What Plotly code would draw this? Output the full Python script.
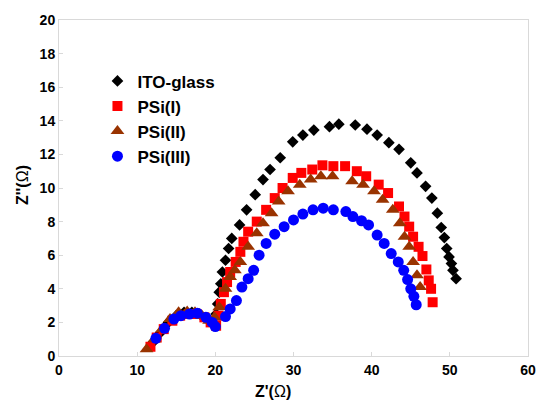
import plotly.graph_objects as go

ito_x = [12.1, 13.0, 14.0, 15.0, 16.0, 17.0, 18.0, 19.0, 19.9, 20.1, 20.3, 20.5, 20.7, 20.9, 21.3, 21.7, 22.1,
         23.1, 24.0, 25.1, 26.1, 27.0, 28.3, 29.9, 31.2, 32.6, 34.6, 35.8, 37.9, 39.4, 40.7, 42.2, 43.5,
         45.0, 45.8, 46.9, 47.7, 48.4, 48.9, 49.3, 49.6, 49.9, 50.2, 50.4, 50.8]
ito_y = [0.85, 1.4, 2.0, 2.4, 2.6, 2.6, 2.5, 2.2, 1.9, 2.5, 3.1, 3.8, 4.3, 5.0, 5.7, 6.4, 7.0,
         7.8, 8.7, 9.6, 10.5, 11.1, 11.8, 12.75, 13.15, 13.45, 13.65, 13.8, 13.75, 13.5, 13.15, 12.7, 12.3,
         11.5, 10.9, 10.1, 9.4, 8.5, 7.65, 7.05, 6.4, 5.9, 5.5, 5.1, 4.6]

psi1_x = [11.7, 12.5, 13.4, 14.5, 15.5, 16.6, 17.6, 18.6, 19.4, 20.1, 20.4, 20.7, 21.1, 21.5, 21.9, 22.6,
          23.2, 23.6, 24.2, 25.3, 26.5, 27.6, 28.6, 29.9, 31.0, 32.4, 33.7, 35.1, 36.6, 38.1, 39.3, 40.9,
          42.1, 43.5, 44.2, 44.8, 45.3, 46.0, 46.5, 47.0, 47.3, 47.6, 47.8]
psi1_y = [0.55, 1.1, 1.6, 2.1, 2.4, 2.5, 2.5, 2.3, 2.0, 1.8, 2.4, 3.1, 3.8, 4.4, 5.0, 5.6,
          6.2, 6.8, 7.4, 8.0, 8.7, 9.4, 10.0, 10.6, 10.9, 11.1, 11.35, 11.3, 11.3, 11.0, 10.7, 10.2,
          9.7, 8.9, 8.3, 7.7, 7.1, 6.5, 5.95, 5.15, 4.5, 4.0, 3.2]

psi2_x = [11.2, 12.2, 13.2, 14.2, 15.3, 16.4, 17.4, 18.3, 19.2, 19.9, 20.5, 21.3, 21.9, 22.5, 23.2, 24.2,
          25.3, 26.1, 27.2, 28.1, 29.3, 30.8, 32.2, 33.5, 35.0, 37.5, 38.9, 40.3, 41.4, 42.7, 43.6, 44.2,
          44.8, 45.3, 45.8, 46.2]
psi2_y = [0.4, 1.0, 1.6, 2.2, 2.6, 2.65, 2.6, 2.4, 2.1, 2.3, 2.9, 4.0, 4.7, 5.1, 5.6, 6.5,
          7.3, 7.9, 8.5, 9.2, 9.8, 10.2, 10.5, 10.7, 10.7, 10.4, 10.2, 9.8, 9.3, 8.7, 7.9, 7.1,
          6.5, 5.6, 4.8, 4.1]

psi3_x = [12.4, 13.5, 14.7, 15.6, 16.7, 17.7, 18.8, 19.6, 20.0, 21.3, 21.9, 22.7, 23.4, 24.2, 24.9, 25.6,
          26.5, 27.6, 28.8, 30.0, 31.2, 32.5, 33.8, 35.1, 36.7, 37.6, 38.7, 39.6, 40.7, 41.6, 42.5, 43.4,
          44.1, 44.6, 45.0, 45.4, 45.7]
psi3_y = [1.05, 1.65, 2.2, 2.4, 2.5, 2.55, 2.3, 2.0, 1.75, 2.35, 2.8, 3.3, 4.1, 4.6, 5.1, 6.0,
          6.7, 7.25, 7.7, 8.1, 8.45, 8.7, 8.8, 8.7, 8.6, 8.3, 8.05, 7.8, 7.2, 6.7, 6.1, 5.6,
          5.1, 4.55, 4.0, 3.55, 3.05]

x_ticks = [0, 10, 20, 30, 40, 50, 60]
y_ticks = [0, 2, 4, 6, 8, 10, 12, 14, 16, 18, 20]

FONT = "Liberation Sans, Arial, sans-serif"
series = [
    ("ITO-glass", ito_x, ito_y, "diamond", "#000000", 9),
    ("PSi(I)", psi1_x, psi1_y, "square", "#ff0000", 10),
    ("PSi(II)", psi2_x, psi2_y, "triangle-up", "#993300", 12),
    ("PSi(III)", psi3_x, psi3_y, "circle", "#0000ff", 11),
]

fig = go.Figure()
for i, (name, xs, ys, sym, col, sz) in enumerate(series):
    fig.add_trace(go.Scatter(x=xs, y=ys, mode="markers", name=name,
                             marker=dict(symbol=sym, color=col, size=sz, line=dict(width=0))))

axis_common = dict(showline=True, mirror=True, linecolor="#d9d9d9", linewidth=1,
                   ticks="inside", ticklen=4, tickcolor="#d9d9d9", showgrid=False, zeroline=False,
                   tickfont=dict(family=FONT, size=14, color="#000000", weight="bold"))

fig.update_layout(
    width=544, height=401,
    margin=dict(l=59, r=8, t=20, b=45),
    paper_bgcolor="white", plot_bgcolor="white",
    xaxis=dict(range=[0, 60], tickvals=x_ticks, ticklabelstandoff=1, **axis_common),
    yaxis=dict(range=[0, 20], tickvals=y_ticks, **axis_common),
    showlegend=True,
    legend=dict(x=0.082, y=0.871, xanchor="left", yanchor="top", bgcolor="rgba(0,0,0,0)",
                font=dict(family=FONT, size=17, color="#000000", weight="bold")),
    annotations=[
        dict(text="<b>Z'(</b>Ω<b>)</b>", xref="paper", yref="paper", x=0.457, y=-0.105,
             xanchor="center", yanchor="middle", showarrow=False,
             font=dict(family=FONT, size=16, color="#000000")),
        dict(text="<b>Z''(</b>Ω<b>)</b>", xref="paper", yref="paper", x=-0.078, y=0.51,
             xanchor="center", yanchor="middle", textangle=-90, showarrow=False,
             font=dict(family=FONT, size=16, color="#000000")),
    ],
)

fig.write_html("out.html")
